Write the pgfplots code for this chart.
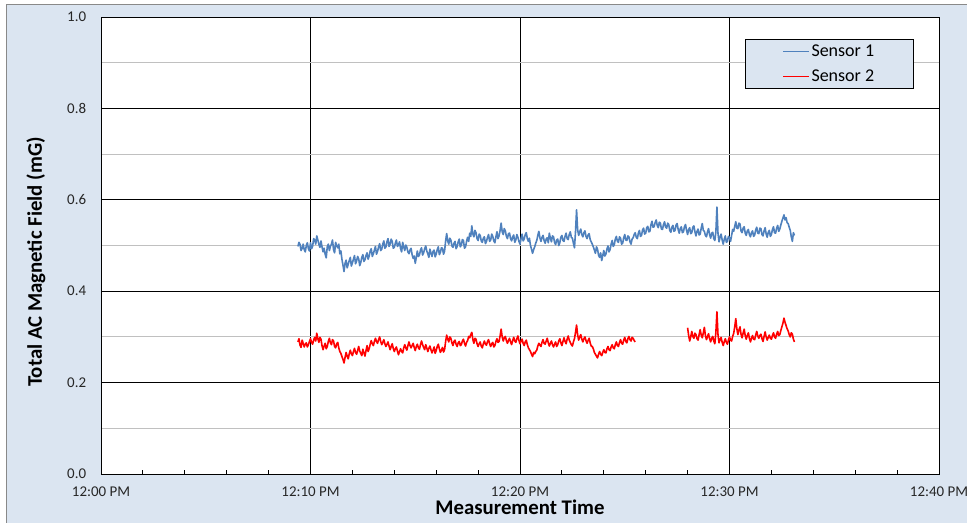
\documentclass[border=0pt]{standalone}
\usepackage{pgfplots}
\pgfplotsset{compat=1.18}
\usepackage{fontspec}
\setmainfont{Carlito}
\definecolor{bgblue}{HTML}{DBE5F1}
\definecolor{sOne}{HTML}{4F81BD}
\definecolor{frameGray}{HTML}{898989}
\definecolor{minorGray}{HTML}{C0C0C0}

\begin{document}
\begin{tikzpicture}
% chart area
\fill[bgblue, draw=frameGray, line width=0.75pt] (-70.5pt,-45pt) rectangle (660pt,351.75pt);
\begin{axis}[
  scale only axis, width=628.5pt, height=342.75pt,
  xmin=0, xmax=40, ymin=0, ymax=1,
  axis background/.style={fill=white},
  axis line style={black, line width=0.75pt},
  xtick={0,10,20,30,40},
  xticklabels={12:00 PM,12:10 PM,12:20 PM,12:30 PM,12:40 PM},
  minor x tick num=4,
  ytick={0,0.2,0.4,0.6,0.8,1},
  yticklabels={0.0,0.2,0.4,0.6,0.8,1.0},
  minor y tick num=1,
  xtick pos=bottom, ytick pos=left,
  tick align=inside, major tick length=0pt, minor tick length=3pt,
  minor tick style={black, line width=0.75pt},
  minor y tick style={draw=none},
  xmajorgrids, ymajorgrids, yminorgrids,
  major grid style={black, line width=0.75pt},
  minor grid style={minorGray, line width=0.75pt},
  tick label style={font=\fontsize{11.2}{13}\selectfont, text=black!85},
  xticklabel style={anchor=center, yshift=-13.4pt},
  yticklabel style={anchor=east, xshift=-7.6pt},
  xlabel={Measurement Time},
  ylabel={Total AC Magnetic Field (mG)},
  label style={font=\fontsize{15.6}{18}\selectfont\bfseries},
  xlabel style={at={(axis description cs:0.5,0)}, anchor=center, yshift=-24.8pt},
  ylabel style={at={(axis description cs:-0.0776,0.464)}, anchor=center},
  legend style={at={(0.9702,0.9519)}, anchor=north east, fill=bgblue, draw=black,
    line width=0.75pt, font=\fontsize{13.5}{16}\selectfont,
    inner xsep=28pt, inner ysep=2.5pt, row sep=5.5pt, nodes={inner sep=1.5pt}},
  legend cell align=left,
  legend image code/.code={\draw[#1, line width=0.75pt] (0pt,0pt) -- (19.5pt,0pt);},
  unbounded coords=jump,
  every axis plot/.append style={line width=1.2pt, line join=round},
]
\addplot[sOne] coordinates {
(9.4,0.498) (9.45,0.507) (9.5,0.502) (9.55,0.489) (9.6,0.494) (9.65,0.503) (9.7,0.491) (9.75,0.486) (9.8,0.500) (9.85,0.506) (9.9,0.493) (9.95,0.488)
(10.0,0.506) (10.05,0.493) (10.1,0.498) (10.15,0.515) (10.2,0.512) (10.25,0.503) (10.3,0.521) (10.35,0.512) (10.4,0.503) (10.45,0.496) (10.5,0.510) (10.55,0.497) (10.6,0.486) (10.65,0.494) (10.7,0.481) (10.75,0.473) (10.8,0.497) (10.85,0.503) (10.9,0.489) (10.95,0.498)
(11.0,0.503) (11.05,0.512) (11.1,0.491) (11.15,0.484) (11.2,0.507) (11.25,0.499) (11.3,0.495) (11.35,0.503) (11.4,0.482) (11.45,0.488) (11.5,0.470) (11.55,0.457) (11.6,0.443) (11.65,0.461) (11.7,0.468) (11.75,0.451) (11.8,0.459) (11.85,0.467) (11.9,0.474) (11.95,0.455)
(12.0,0.462) (12.05,0.470) (12.1,0.478) (12.15,0.460) (12.2,0.466) (12.25,0.476) (12.3,0.471) (12.35,0.456) (12.4,0.463) (12.45,0.474) (12.5,0.480) (12.55,0.465) (12.6,0.469) (12.65,0.478) (12.7,0.484) (12.75,0.470) (12.8,0.477) (12.85,0.488) (12.9,0.493) (12.95,0.476)
(13.0,0.482) (13.05,0.490) (13.1,0.498) (13.15,0.481) (13.2,0.487) (13.25,0.497) (13.3,0.504) (13.35,0.489) (13.4,0.492) (13.45,0.503) (13.5,0.510) (13.55,0.494) (13.6,0.497) (13.65,0.508) (13.7,0.515) (13.75,0.498) (13.8,0.503) (13.85,0.514) (13.9,0.509) (13.95,0.494)
(14.0,0.496) (14.05,0.505) (14.1,0.512) (14.15,0.498) (14.2,0.501) (14.25,0.508) (14.3,0.493) (14.35,0.486) (14.4,0.507) (14.45,0.497) (14.5,0.489) (14.55,0.501) (14.6,0.496) (14.65,0.486) (14.7,0.482) (14.75,0.490) (14.8,0.494) (14.85,0.480) (14.9,0.472) (14.95,0.477)
(15.0,0.461) (15.05,0.474) (15.1,0.488) (15.15,0.476) (15.2,0.479) (15.25,0.490) (15.3,0.495) (15.35,0.479) (15.4,0.484) (15.45,0.493) (15.5,0.499) (15.55,0.488) (15.6,0.482) (15.65,0.474) (15.7,0.492) (15.75,0.484) (15.8,0.476) (15.85,0.487) (15.9,0.490) (15.95,0.475)
(16.0,0.481) (16.05,0.491) (16.1,0.497) (16.15,0.480) (16.2,0.485) (16.25,0.495) (16.3,0.494) (16.35,0.481) (16.4,0.488) (16.45,0.510) (16.5,0.526) (16.55,0.510) (16.6,0.503) (16.65,0.516) (16.7,0.512) (16.75,0.499) (16.8,0.496) (16.85,0.505) (16.9,0.509) (16.95,0.493)
(17.0,0.498) (17.05,0.508) (17.1,0.514) (17.15,0.497) (17.2,0.501) (17.25,0.513) (17.3,0.511) (17.35,0.494) (17.4,0.497) (17.45,0.509) (17.5,0.518) (17.55,0.509) (17.6,0.527) (17.65,0.520) (17.7,0.543) (17.75,0.525) (17.8,0.519) (17.85,0.533) (17.9,0.528) (17.95,0.515)
(18.0,0.511) (18.05,0.525) (18.1,0.522) (18.15,0.510) (18.2,0.507) (18.25,0.516) (18.3,0.519) (18.35,0.504) (18.4,0.509) (18.45,0.518) (18.5,0.524) (18.55,0.509) (18.6,0.512) (18.65,0.525) (18.7,0.520) (18.75,0.510) (18.8,0.506) (18.85,0.519) (18.9,0.530) (18.95,0.515)
(19.0,0.521) (19.05,0.533) (19.1,0.549) (19.15,0.530) (19.2,0.524) (19.25,0.537) (19.3,0.532) (19.35,0.520) (19.4,0.515) (19.45,0.526) (19.5,0.527) (19.55,0.515) (19.6,0.510) (19.65,0.519) (19.7,0.523) (19.75,0.507) (19.8,0.512) (19.85,0.524) (19.9,0.518) (19.95,0.509)
(20.0,0.503) (20.05,0.515) (20.1,0.525) (20.15,0.510) (20.2,0.514) (20.25,0.524) (20.3,0.528) (20.35,0.515) (20.4,0.509) (20.45,0.516) (20.5,0.500) (20.55,0.492) (20.6,0.483) (20.65,0.491) (20.7,0.497) (20.75,0.505) (20.8,0.511) (20.85,0.522) (20.9,0.531) (20.95,0.517)
(21.0,0.509) (21.05,0.518) (21.1,0.522) (21.15,0.511) (21.2,0.505) (21.25,0.514) (21.3,0.517) (21.35,0.506) (21.4,0.527) (21.45,0.516) (21.5,0.508) (21.55,0.521) (21.6,0.519) (21.65,0.507) (21.7,0.502) (21.75,0.512) (21.8,0.514) (21.85,0.500) (21.9,0.506) (21.95,0.518)
(22.0,0.522) (22.05,0.511) (22.1,0.509) (22.15,0.520) (22.2,0.527) (22.25,0.515) (22.3,0.513) (22.35,0.524) (22.4,0.530) (22.45,0.518) (22.5,0.516) (22.55,0.505) (22.6,0.495) (22.65,0.530) (22.7,0.578) (22.75,0.535) (22.8,0.522) (22.85,0.530) (22.9,0.536) (22.95,0.524)
(23.0,0.519) (23.05,0.528) (23.1,0.532) (23.15,0.520) (23.2,0.515) (23.25,0.523) (23.3,0.526) (23.35,0.513) (23.4,0.508) (23.45,0.503) (23.5,0.497) (23.55,0.490) (23.6,0.483) (23.65,0.497) (23.7,0.492) (23.75,0.479) (23.8,0.474) (23.85,0.484) (23.9,0.467) (23.95,0.478)
(24.0,0.489) (24.05,0.477) (24.1,0.481) (24.15,0.492) (24.2,0.499) (24.25,0.486) (24.3,0.491) (24.35,0.503) (24.4,0.511) (24.45,0.498) (24.5,0.502) (24.55,0.514) (24.6,0.520) (24.65,0.509) (24.7,0.507) (24.75,0.519) (24.8,0.516) (24.85,0.503) (24.9,0.505) (24.95,0.517)
(25.0,0.524) (25.05,0.512) (25.1,0.511) (25.15,0.521) (25.2,0.519) (25.25,0.508) (25.3,0.503) (25.35,0.514) (25.4,0.517) (25.45,0.524) (25.5,0.528) (25.55,0.518) (25.6,0.515) (25.65,0.527) (25.7,0.533) (25.75,0.520) (25.8,0.522) (25.85,0.534) (25.9,0.538) (25.95,0.525)
(26.0,0.527) (26.05,0.539) (26.1,0.542) (26.15,0.530) (26.2,0.531) (26.25,0.545) (26.3,0.553) (26.35,0.540) (26.4,0.541) (26.45,0.550) (26.5,0.556) (26.55,0.544) (26.6,0.539) (26.65,0.551) (26.7,0.549) (26.75,0.536) (26.8,0.535) (26.85,0.546) (26.9,0.552) (26.95,0.540)
(27.0,0.538) (27.05,0.549) (27.1,0.546) (27.15,0.533) (27.2,0.529) (27.25,0.540) (27.3,0.544) (27.35,0.531) (27.4,0.533) (27.45,0.545) (27.5,0.548) (27.55,0.535) (27.6,0.527) (27.65,0.537) (27.7,0.541) (27.75,0.528) (27.8,0.530) (27.85,0.541) (27.9,0.546) (27.95,0.533)
(28.0,0.524) (28.05,0.535) (28.1,0.539) (28.15,0.526) (28.2,0.528) (28.25,0.540) (28.3,0.543) (28.35,0.530) (28.4,0.521) (28.45,0.531) (28.5,0.536) (28.55,0.523) (28.6,0.525) (28.65,0.538) (28.7,0.548) (28.75,0.533) (28.8,0.531) (28.85,0.522) (28.9,0.519) (28.95,0.530)
(29.0,0.537) (29.05,0.524) (29.1,0.516) (29.15,0.527) (29.2,0.529) (29.25,0.515) (29.3,0.511) (29.35,0.530) (29.4,0.584) (29.45,0.527) (29.5,0.508) (29.55,0.518) (29.6,0.525) (29.65,0.512) (29.7,0.503) (29.75,0.514) (29.8,0.521) (29.85,0.507) (29.9,0.509) (29.95,0.520)
(30.0,0.517) (30.05,0.509) (30.1,0.522) (30.15,0.535) (30.2,0.531) (30.25,0.542) (30.3,0.552) (30.35,0.538) (30.4,0.537) (30.45,0.549) (30.5,0.547) (30.55,0.532) (30.6,0.528) (30.65,0.538) (30.7,0.541) (30.75,0.527) (30.8,0.522) (30.85,0.532) (30.9,0.535) (30.95,0.524)
(31.0,0.519) (31.05,0.528) (31.1,0.532) (31.15,0.520) (31.2,0.523) (31.25,0.534) (31.3,0.540) (31.35,0.527) (31.4,0.526) (31.45,0.538) (31.5,0.537) (31.55,0.524) (31.6,0.521) (31.65,0.532) (31.7,0.539) (31.75,0.525) (31.8,0.518) (31.85,0.529) (31.9,0.533) (31.95,0.520)
(32.0,0.524) (32.05,0.535) (32.1,0.541) (32.15,0.528) (32.2,0.527) (32.25,0.538) (32.3,0.544) (32.35,0.531) (32.4,0.536) (32.45,0.545) (32.5,0.553) (32.55,0.560) (32.6,0.567) (32.65,0.556) (32.7,0.561) (32.75,0.550) (32.8,0.548) (32.85,0.540) (32.9,0.533) (32.95,0.519)
(33.0,0.509) (33.05,0.528) (33.1,0.522)
};
\addlegendentry{Sensor 1}
\addplot[red] coordinates {
(9.4,0.289) (9.45,0.296) (9.5,0.282) (9.55,0.277) (9.6,0.293) (9.65,0.286) (9.7,0.278) (9.75,0.284) (9.8,0.287) (9.85,0.278) (9.9,0.283) (9.95,0.290)
(10.0,0.296) (10.05,0.288) (10.1,0.284) (10.15,0.293) (10.2,0.299) (10.25,0.291) (10.3,0.308) (10.35,0.296) (10.4,0.288) (10.45,0.299) (10.5,0.295) (10.55,0.281) (10.6,0.272) (10.65,0.280) (10.7,0.286) (10.75,0.274) (10.8,0.279) (10.85,0.290) (10.9,0.297) (10.95,0.287)
(11.0,0.283) (11.05,0.294) (11.1,0.291) (11.15,0.279) (11.2,0.276) (11.25,0.285) (11.3,0.288) (11.35,0.276) (11.4,0.268) (11.45,0.264) (11.5,0.257) (11.55,0.251) (11.6,0.243) (11.65,0.255) (11.7,0.266) (11.75,0.258) (11.8,0.252) (11.85,0.263) (11.9,0.271) (11.95,0.263)
(12.0,0.259) (12.05,0.268) (12.1,0.275) (12.15,0.266) (12.2,0.262) (12.25,0.270) (12.3,0.279) (12.35,0.269) (12.4,0.264) (12.45,0.259) (12.5,0.273) (12.55,0.265) (12.6,0.258) (12.65,0.270) (12.7,0.281) (12.75,0.268) (12.8,0.274) (12.85,0.284) (12.9,0.292) (12.95,0.285)
(13.0,0.281) (13.05,0.290) (13.1,0.297) (13.15,0.290) (13.2,0.286) (13.25,0.294) (13.3,0.300) (13.35,0.290) (13.4,0.283) (13.45,0.288) (13.5,0.294) (13.55,0.285) (13.6,0.279) (13.65,0.284) (13.7,0.289) (13.75,0.280) (13.8,0.272) (13.85,0.279) (13.9,0.285) (13.95,0.275)
(14.0,0.268) (14.05,0.274) (14.1,0.278) (14.15,0.269) (14.2,0.261) (14.25,0.268) (14.3,0.274) (14.35,0.268) (14.4,0.265) (14.45,0.276) (14.5,0.283) (14.55,0.276) (14.6,0.271) (14.65,0.281) (14.7,0.289) (14.75,0.281) (14.8,0.276) (14.85,0.281) (14.9,0.286) (14.95,0.277)
(15.0,0.270) (15.05,0.279) (15.1,0.284) (15.15,0.276) (15.2,0.273) (15.25,0.283) (15.3,0.291) (15.35,0.283) (15.4,0.277) (15.45,0.272) (15.5,0.283) (15.55,0.276) (15.6,0.268) (15.65,0.275) (15.7,0.280) (15.75,0.272) (15.8,0.265) (15.85,0.271) (15.9,0.278) (15.95,0.264)
(16.0,0.270) (16.05,0.279) (16.1,0.284) (16.15,0.274) (16.2,0.266) (16.25,0.271) (16.3,0.277) (16.35,0.267) (16.4,0.272) (16.45,0.290) (16.5,0.304) (16.55,0.295) (16.6,0.289) (16.65,0.300) (16.7,0.297) (16.75,0.287) (16.8,0.281) (16.85,0.290) (16.9,0.293) (16.95,0.284)
(17.0,0.279) (17.05,0.287) (17.1,0.290) (17.15,0.281) (17.2,0.283) (17.25,0.291) (17.3,0.295) (17.35,0.286) (17.4,0.280) (17.45,0.288) (17.5,0.292) (17.55,0.301) (17.6,0.298) (17.65,0.305) (17.7,0.310) (17.75,0.294) (17.8,0.286) (17.85,0.297) (17.9,0.295) (17.95,0.285)
(18.0,0.279) (18.05,0.285) (18.1,0.289) (18.15,0.280) (18.2,0.276) (18.25,0.285) (18.3,0.291) (18.35,0.284) (18.4,0.282) (18.45,0.290) (18.5,0.294) (18.55,0.285) (18.6,0.279) (18.65,0.285) (18.7,0.288) (18.75,0.278) (18.8,0.281) (18.85,0.290) (18.9,0.296) (18.95,0.288)
(19.0,0.290) (19.05,0.302) (19.1,0.317) (19.15,0.300) (19.2,0.291) (19.25,0.298) (19.3,0.301) (19.35,0.292) (19.4,0.286) (19.45,0.292) (19.5,0.297) (19.55,0.289) (19.6,0.283) (19.65,0.292) (19.7,0.299) (19.75,0.291) (19.8,0.288) (19.85,0.296) (19.9,0.302) (19.95,0.292)
(20.0,0.285) (20.05,0.291) (20.1,0.295) (20.15,0.286) (20.2,0.281) (20.25,0.289) (20.3,0.293) (20.35,0.283) (20.4,0.276) (20.45,0.272) (20.5,0.268) (20.55,0.262) (20.6,0.257) (20.65,0.266) (20.7,0.263) (20.75,0.268) (20.8,0.271) (20.85,0.280) (20.9,0.286) (20.95,0.282)
(21.0,0.279) (21.05,0.288) (21.1,0.294) (21.15,0.286) (21.2,0.284) (21.25,0.291) (21.3,0.297) (21.35,0.287) (21.4,0.280) (21.45,0.286) (21.5,0.291) (21.55,0.283) (21.6,0.278) (21.65,0.284) (21.7,0.289) (21.75,0.279) (21.8,0.283) (21.85,0.291) (21.9,0.296) (21.95,0.287)
(22.0,0.281) (22.05,0.290) (22.1,0.298) (22.15,0.290) (22.2,0.285) (22.25,0.295) (22.3,0.302) (22.35,0.293) (22.4,0.288) (22.45,0.283) (22.5,0.280) (22.55,0.289) (22.6,0.296) (22.65,0.310) (22.7,0.326) (22.75,0.305) (22.8,0.293) (22.85,0.300) (22.9,0.305) (22.95,0.295)
(23.0,0.289) (23.05,0.296) (23.1,0.300) (23.15,0.292) (23.2,0.286) (23.25,0.292) (23.3,0.297) (23.35,0.287) (23.4,0.280) (23.45,0.279) (23.5,0.274) (23.55,0.266) (23.6,0.262) (23.65,0.258) (23.7,0.254) (23.75,0.262) (23.8,0.268) (23.85,0.262) (23.9,0.259) (23.95,0.266)
(24.0,0.272) (24.05,0.266) (24.1,0.265) (24.15,0.274) (24.2,0.279) (24.25,0.272) (24.3,0.270) (24.35,0.278) (24.4,0.283) (24.45,0.276) (24.5,0.274) (24.55,0.283) (24.6,0.289) (24.65,0.281) (24.7,0.279) (24.75,0.288) (24.8,0.294) (24.85,0.286) (24.9,0.284) (24.95,0.293)
(25.0,0.299) (25.05,0.290) (25.1,0.287) (25.15,0.296) (25.2,0.301) (25.25,0.294) (25.3,0.291) (25.35,0.299) (25.4,0.297) (25.45,0.292) (25.5,0.289)
(26.5,nan)
(28.0,0.320) (28.05,0.303) (28.1,0.291) (28.15,0.300) (28.2,0.312) (28.25,0.301) (28.3,0.297) (28.35,0.308) (28.4,0.305) (28.45,0.296) (28.5,0.293) (28.55,0.305) (28.6,0.316) (28.65,0.304) (28.7,0.298) (28.75,0.309) (28.8,0.321) (28.85,0.303) (28.9,0.294) (28.95,0.301)
(29.0,0.307) (29.05,0.296) (29.1,0.289) (29.15,0.297) (29.2,0.301) (29.25,0.291) (29.3,0.285) (29.35,0.310) (29.4,0.355) (29.45,0.305) (29.5,0.287) (29.55,0.294) (29.6,0.299) (29.65,0.288) (29.7,0.281) (29.75,0.290) (29.8,0.296) (29.85,0.288) (29.9,0.284) (29.95,0.293)
(30.0,0.300) (30.05,0.293) (30.1,0.291) (30.15,0.301) (30.2,0.308) (30.25,0.322) (30.3,0.340) (30.35,0.318) (30.4,0.305) (30.45,0.315) (30.5,0.322) (30.55,0.306) (30.6,0.298) (30.65,0.308) (30.7,0.317) (30.75,0.303) (30.8,0.295) (30.85,0.303) (30.9,0.309) (30.95,0.297)
(31.0,0.289) (31.05,0.297) (31.1,0.303) (31.15,0.295) (31.2,0.294) (31.25,0.304) (31.3,0.312) (31.35,0.302) (31.4,0.297) (31.45,0.303) (31.5,0.306) (31.55,0.296) (31.6,0.290) (31.65,0.301) (31.7,0.311) (31.75,0.300) (31.8,0.293) (31.85,0.299) (31.9,0.304) (31.95,0.297)
(32.0,0.295) (32.05,0.303) (32.1,0.309) (32.15,0.300) (32.2,0.297) (32.25,0.306) (32.3,0.312) (32.35,0.303) (32.4,0.305) (32.45,0.314) (32.5,0.322) (32.55,0.330) (32.6,0.341) (32.65,0.332) (32.7,0.325) (32.75,0.318) (32.8,0.313) (32.85,0.305) (32.9,0.300) (32.95,0.309)
(33.0,0.306) (33.05,0.295) (33.1,0.289)
};
\addlegendentry{Sensor 2}
\end{axis}
\pgfresetboundingbox
\path[use as bounding box] (-75.75pt,-36pt) rectangle (649.5pt,355.5pt);
\end{tikzpicture}
\end{document}
